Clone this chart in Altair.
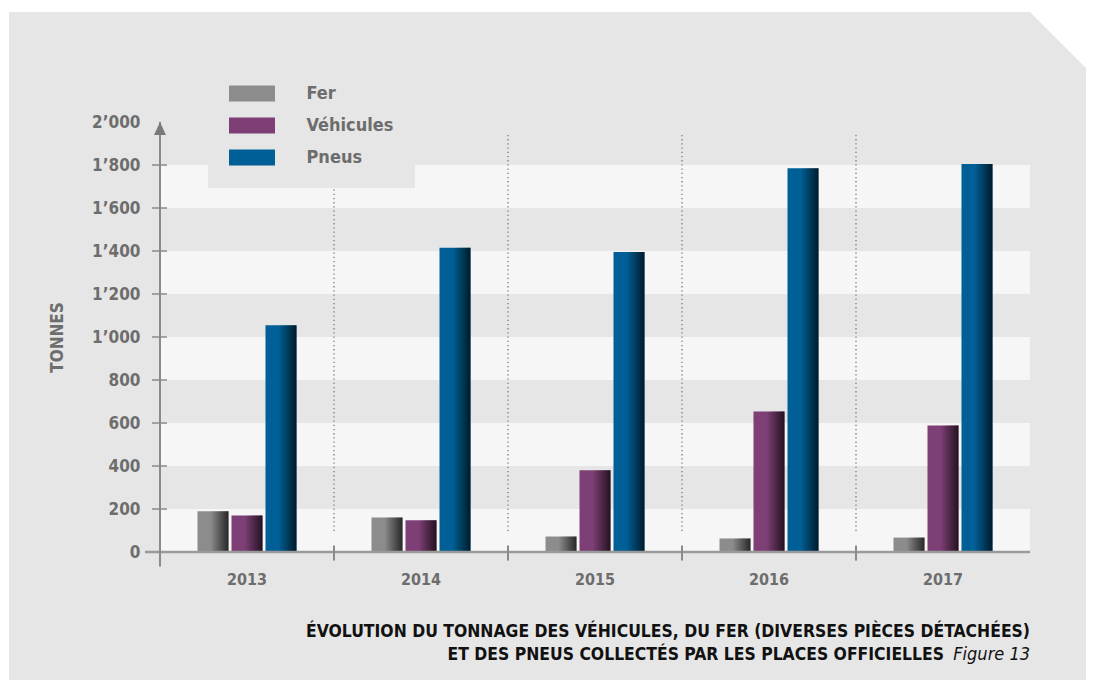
import altair as alt
import pandas as pd

# ---------------- data ----------------
years = ["2013", "2014", "2015", "2016", "2017"]
series_names = ["Fer", "Véhicules", "Pneus"]
fer = [190, 160, 72, 63, 67]
vehicules = [170, 148, 380, 653, 588]
pneus = [1055, 1415, 1395, 1785, 1805]
series_colors = ["#8c8c8c", "#7d3f75", "#005f96"]

y_ticks = [0, 200, 400, 600, 800, 1000, 1200, 1400, 1600, 1800, 2000]
tick_marks = [200, 400, 600, 800, 1000, 1200, 1400, 1600, 1800]
band_starts = [0, 400, 800, 1200, 1600]
band_size = 200
separator_years = ["2014", "2015", "2016", "2017"]
sep_top, sep_bottom = 1940, 95
axis_top, axis_bottom = 2000, -68
xtick_lo, xtick_hi = -40, 30

title_line1 = "ÉVOLUTION DU TONNAGE DES VÉHICULES, DU FER (DIVERSES PIÈCES DÉTACHÉES)"
title_line2 = "ET DES PNEUS COLLECTÉS PAR LES PLACES OFFICIELLES"
figure_label = "Figure 13"
y_title = "TONNES"

# ---------------- layout ----------------
W, H = 870, 430
FONT = "Liberation Sans Narrow, DejaVu Sans Condensed, Arial Narrow, sans-serif"
GREY_TXT = "#6d6d6d"

rows = []
for i, y in enumerate(years):
    for s, vals in zip(series_names, [fer, vehicules, pneus]):
        rows.append({"year": y, "series": s, "value": vals[i]})
bars_df = pd.DataFrame(rows)

bands_df = pd.DataFrame({"lo": band_starts, "hi": [b + band_size for b in band_starts]})
sep_df = pd.DataFrame({"year": separator_years, "top": sep_top, "bottom": sep_bottom})
xtick_df = pd.DataFrame({"year": separator_years, "lo": xtick_lo, "hi": xtick_hi})
ytick_df = pd.DataFrame({"value": tick_marks})
one = pd.DataFrame({"v": [0]})
axis_df = pd.DataFrame({"lo": [axis_bottom], "hi": [axis_top]})
arrow_df = pd.DataFrame({"value": [axis_top]})

X_PAD = 0.0402
x_scale = alt.Scale(domain=years, paddingInner=X_PAD, paddingOuter=X_PAD / 2)
y_scale = alt.Scale(domain=[0, 2000], nice=False, zero=True)
xoff_scale = alt.Scale(domain=series_names, paddingInner=0.088, paddingOuter=1)
SEP_SHIFT = -3.5  # half of the gap between year bands

X_AXIS = alt.Axis(title=None, labelAngle=0, domain=False, ticks=False, tickSize=0,
                  labelPadding=19, labelFont=FONT, labelFontSize=16,
                  labelFontWeight="bold", labelColor=GREY_TXT, zindex=1)
Y_AXIS = alt.Axis(values=y_ticks, labelExpr="replace(format(datum.value, ','), ',', '’')",
                  domain=False, ticks=False, tickSize=0, grid=False, labelPadding=20,
                  labelFont=FONT, labelFontSize=17, labelFontWeight="bold",
                  labelColor=GREY_TXT, title=y_title, titleFont=FONT, titleFontSize=17,
                  titleFontWeight="bold", titleColor=GREY_TXT, titleX=-103, titleY=215,
                  titleBaseline="middle", zindex=1)


def X(field, **kw):
    return alt.X(field, sort=years, scale=x_scale, axis=X_AXIS, **kw)


def Y(field):
    return alt.Y(field, scale=y_scale, axis=Y_AXIS)


panel = alt.Chart(one).mark_rect(color="#e6e6e6").encode(
    x=alt.value(-151), x2=alt.value(930), y=alt.value(-110), y2=alt.value(560)
)
corner = alt.Chart(one).mark_point(
    shape="M-1,-1L1,-1L1,1Z", size=6400, filled=True, color="white", opacity=1, strokeWidth=0
).encode(x=alt.value(910), y=alt.value(-70))

bands = alt.Chart(bands_df).mark_rect(color="#f6f6f6").encode(
    x=alt.value(0), x2=alt.value(W), y=Y("lo:Q"), y2="hi:Q"
)

separators = alt.Chart(sep_df).mark_rule(
    color="#8a8a8a", strokeWidth=1.5, strokeDash=[1.3, 2.9], xOffset=SEP_SHIFT
).encode(x=X("year:N", bandPosition=0), y=Y("top:Q"), y2="bottom:Q")

bars = alt.Chart(bars_df).mark_bar().encode(
    x=X("year:N"),
    xOffset=alt.XOffset("series:N", sort=series_names, scale=xoff_scale),
    y=Y("value:Q"),
    color=alt.Color("series:N", sort=series_names,
                    scale=alt.Scale(domain=series_names, range=series_colors),
                    legend=alt.Legend(title=None, orient="none", legendX=48, legendY=-61,
                                      padding=21, fillColor="#e6e6e6",
                                      symbolType="M-2,-0.696H2V0.696H-2Z", symbolSize=529,
                                      symbolOffset=11.5, symbolStrokeWidth=0, symbolOpacity=1,
                                      labelOffset=43, rowPadding=11, labelFont=FONT,
                                      labelFontSize=18, labelFontWeight="bold",
                                      labelColor=GREY_TXT, zindex=1)),
)

shade = alt.Chart(bars_df).mark_bar(
    fill=alt.LinearGradient(
        gradient="linear", x1=0, x2=1, y1=0, y2=0,
        stops=[alt.GradientStop(color="rgba(0,0,0,0)", offset=0),
               alt.GradientStop(color="rgba(0,0,0,0)", offset=0.42),
               alt.GradientStop(color="rgba(0,0,0,0.72)", offset=1)]
    )
).encode(
    x=X("year:N"),
    xOffset=alt.XOffset("series:N", sort=series_names, scale=xoff_scale),
    y=Y("value:Q"),
)

x_line = alt.Chart(one).mark_rule(color="#9a9a9a", strokeWidth=2.5).encode(
    x=alt.value(-15), x2=alt.value(W), y=Y("v:Q")
)
x_ticks = alt.Chart(xtick_df).mark_rule(color="#8a8a8a", strokeWidth=2, xOffset=SEP_SHIFT).encode(
    x=X("year:N", bandPosition=0), y=Y("lo:Q"), y2="hi:Q"
)
y_line = alt.Chart(axis_df).mark_rule(color="#8a8a8a", strokeWidth=2).encode(
    x=alt.value(0), y=Y("lo:Q"), y2="hi:Q"
)
y_tick_marks = alt.Chart(ytick_df).mark_rule(color="#8a8a8a", strokeWidth=1.5).encode(
    x=alt.value(-8), x2=alt.value(7), y=Y("value:Q")
)
arrow = alt.Chart(arrow_df).mark_point(
    shape="M0,0L0.46,1L-0.46,1Z", size=676, filled=True, color="#7a7a7a", opacity=1, strokeWidth=0
).encode(x=alt.value(0), y=Y("value:Q"))

t1 = alt.Chart(one).mark_text(
    text=title_line1, align="right", baseline="middle", font=FONT, fontSize=17.4,
    fontWeight="bold", color="#111111"
).encode(x=alt.value(W), y=alt.value(510))
t2 = alt.Chart(one).mark_text(
    text=title_line2, align="right", baseline="middle", font=FONT, fontSize=17.4,
    fontWeight="bold", color="#111111"
).encode(x=alt.value(784), y=alt.value(533))
t3 = alt.Chart(one).mark_text(
    text=figure_label, align="right", baseline="middle", font=FONT, fontSize=18,
    fontStyle="italic", color="#111111"
).encode(x=alt.value(W), y=alt.value(533))

chart = alt.layer(
    panel, corner, bands, separators, bars, shade, x_line, x_ticks, y_line,
    y_tick_marks, arrow, t1, t2, t3
).properties(
    width=W, height=H,
    autosize=alt.AutoSizeParams(type="none"),
    padding={"left": 152, "top": 114, "right": 56, "bottom": 128},
).configure(background="white").configure_view(stroke="transparent")

chart.save("out.html", embed_options={"renderer": "svg", "actions": False})
